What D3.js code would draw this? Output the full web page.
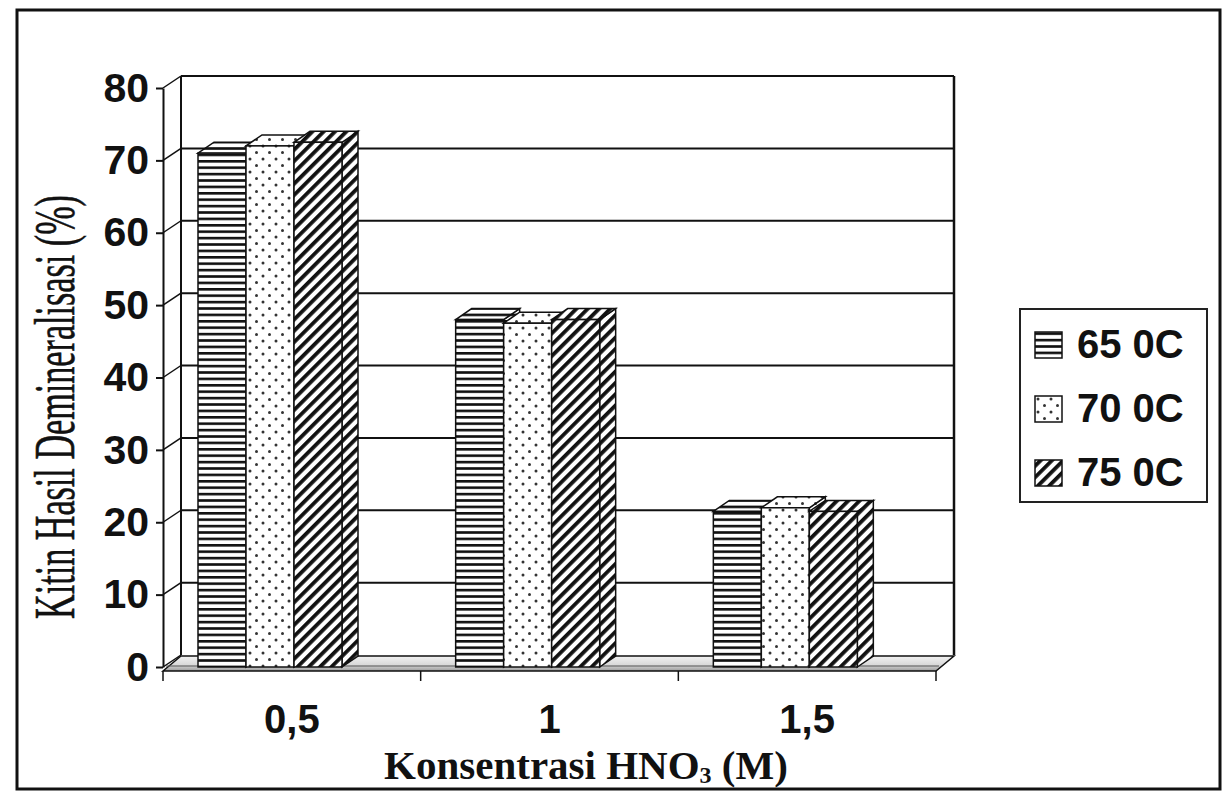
<!DOCTYPE html>
<html>
<head>
<meta charset="utf-8">
<script src="https://cdn.jsdelivr.net/npm/d3@7"></script>
<style>
  body { margin: 0; background: #fff; }
  svg { display: block; }
</style>
</head>
<body>
<div id="chart-area"></div>
<script>
/*
*    3D column chart - kitin demineralisasi
*/

var categories = ["0,5", "1", "1,5"];
var series = ["65 0C", "70 0C", "75 0C"];
var values65 = [71, 48, 21.5];
var values70 = [72, 47.5, 22];
var values75 = [72.5, 48, 21.5];
var yTicks = [0, 10, 20, 30, 40, 50, 60, 70, 80];

var seriesValues = [values65, values70, values75];
var patterns = ["hstripe", "dots", "diag"];

var width = 1224;
var height = 795;

var wall = { dx: 18, dy: -12 };
var bar = { dx: 16, dy: -11 };

var svg = d3.select("#chart-area").append("svg")
    .attr("width", width)
    .attr("height", height);

var defs = svg.append("defs");

// horizontal stripes
var p1 = defs.append("pattern").attr("id", "hstripe")
    .attr("patternUnits", "userSpaceOnUse").attr("width", 8).attr("height", 6.4);
p1.append("rect").attr("width", 8).attr("height", 6.4).attr("fill", "#fff");
p1.append("rect").attr("y", 0).attr("width", 8).attr("height", 2.6).attr("fill", "#111");

// dots
var p2 = defs.append("pattern").attr("id", "dots")
    .attr("patternUnits", "userSpaceOnUse").attr("width", 13).attr("height", 13);
p2.append("rect").attr("width", 13).attr("height", 13).attr("fill", "#fff");
p2.append("circle").attr("cx", 3).attr("cy", 3).attr("r", 1.5).attr("fill", "#333");
p2.append("circle").attr("cx", 9.5).attr("cy", 9.5).attr("r", 1.5).attr("fill", "#333");

// diagonal hatch
var p3 = defs.append("pattern").attr("id", "diag")
    .attr("patternUnits", "userSpaceOnUse").attr("width", 8).attr("height", 8)
    .attr("patternTransform", "rotate(45)");
p3.append("rect").attr("width", 8).attr("height", 8).attr("fill", "#fff");
p3.append("rect").attr("width", 3.8).attr("height", 8).attr("fill", "#111");

var floorGrad = defs.append("linearGradient").attr("id", "floorGrad")
    .attr("x1", 0).attr("x2", 0).attr("y1", 0).attr("y2", 1);
floorGrad.append("stop").attr("offset", "0%").attr("stop-color", "#f2f2f2");
floorGrad.append("stop").attr("offset", "60%").attr("stop-color", "#d8d8d8");
floorGrad.append("stop").attr("offset", "100%").attr("stop-color", "#9a9a9a");

// outer frame
svg.append("rect")
    .attr("x", 17).attr("y", 10)
    .attr("width", 1203).attr("height", 779)
    .attr("fill", "none")
    .attr("stroke", "#111")
    .attr("stroke-width", 3);

var x = d3.scaleBand().domain(categories).range([163, 936]);
var xs = d3.scaleBand().domain(series).range([35, 35 + 144]);
var y = d3.scaleLinear().domain([0, 80]).range([667, 88]);

var g = svg.append("g");

var x0 = x.range()[0], x1 = x.range()[1];

// back wall gridlines
g.selectAll(".grid").data(yTicks.filter((d) => d > 0)).enter().append("line")
    .attr("x1", x0 + wall.dx).attr("x2", x1 + wall.dx)
    .attr("y1", (d) => y(d) + wall.dy).attr("y2", (d) => y(d) + wall.dy)
    .attr("stroke", "#111").attr("stroke-width", 2);

// left wall diagonals
g.selectAll(".diag").data(yTicks).enter().append("line")
    .attr("x1", x0).attr("x2", x0 + wall.dx)
    .attr("y1", (d) => y(d)).attr("y2", (d) => y(d) + wall.dy)
    .attr("stroke", "#111").attr("stroke-width", 1.5);

// back wall edges
g.append("line")
    .attr("x1", x0 + wall.dx).attr("x2", x0 + wall.dx)
    .attr("y1", y(80) + wall.dy).attr("y2", y(0) + wall.dy)
    .attr("stroke", "#111").attr("stroke-width", 2);
g.append("line")
    .attr("x1", x1 + wall.dx).attr("x2", x1 + wall.dx)
    .attr("y1", y(80) + wall.dy).attr("y2", y(0) + wall.dy)
    .attr("stroke", "#111").attr("stroke-width", 2.5);

// floor
var fy = y(0);
g.append("path")
    .attr("d", "M" + x0 + "," + (fy + 4) + "L" + (x0 + wall.dx) + "," + (fy + wall.dy + 1) +
        "L" + (x1 + wall.dx) + "," + (fy + wall.dy + 1) + "L" + x1 + "," + (fy + 4) + "Z")
    .attr("fill", "url(#floorGrad)")
    .attr("stroke", "#111").attr("stroke-width", 1.5);
g.append("line")
    .attr("x1", x0 + 3).attr("x2", x1 + 3)
    .attr("y1", fy - 1).attr("y2", fy - 1)
    .attr("stroke", "#555").attr("stroke-width", 1.2);

// category ticks at band boundaries
var bounds = categories.map((c) => x(c)).concat([x1]);
g.selectAll(".ctick").data(bounds).enter().append("line")
    .attr("x1", (d) => d).attr("x2", (d) => d)
    .attr("y1", fy + 4).attr("y2", fy + 14)
    .attr("stroke", "#111").attr("stroke-width", 1.5);

// bars
var barData = [];
categories.forEach((c, ci) => {
    series.forEach((s, si) => {
        barData.push({ cat: c, s: s, v: seriesValues[si][ci], pat: patterns[si] });
    });
});

var bars = g.selectAll(".bar").data(barData).enter().append("g").attr("class", "bar");

bars.each(function(d) {
    var sel = d3.select(this);
    var bx = x(d.cat) + xs(d.s);
    var bw = xs.bandwidth();
    var top = y(d.v);
    var bot = y(0);
    // side face
    sel.append("path")
        .attr("d", "M" + (bx + bw) + "," + bot + "L" + (bx + bw + bar.dx) + "," + (bot + bar.dy) +
            "L" + (bx + bw + bar.dx) + "," + (top + bar.dy) + "L" + (bx + bw) + "," + top + "Z")
        .attr("fill", "url(#" + d.pat + ")")
        .attr("stroke", "#111").attr("stroke-width", 1.5);
    // top face
    sel.append("path")
        .attr("d", "M" + bx + "," + top + "L" + (bx + bar.dx) + "," + (top + bar.dy) +
            "L" + (bx + bw + bar.dx) + "," + (top + bar.dy) + "L" + (bx + bw) + "," + top + "Z")
        .attr("fill", "url(#" + d.pat + ")")
        .attr("stroke", "#111").attr("stroke-width", 1.5);
    // front face
    sel.append("rect")
        .attr("x", bx).attr("y", top)
        .attr("width", bw).attr("height", bot - top)
        .attr("fill", "url(#" + d.pat + ")")
        .attr("stroke", "#111").attr("stroke-width", 1.5);
});

// y axis
var yAxisCall = d3.axisLeft(y)
    .tickValues(yTicks)
    .tickSize(7)
    .tickSizeOuter(0)
    .tickPadding(7);

var yAxisGroup = svg.append("g")
    .attr("transform", "translate(" + x0 + ",0)")
    .call(yAxisCall);

yAxisGroup.selectAll(".domain, .tick line").attr("stroke", "#111").attr("stroke-width", 2);
yAxisGroup.selectAll(".tick text")
    .attr("fill", "#111")
    .style("font-family", "'Liberation Sans', Arial, sans-serif")
    .style("font-weight", "bold")
    .style("font-size", "41px");

// category labels
svg.selectAll(".clabel").data(categories).enter().append("text")
    .attr("x", (d) => x(d) + x.bandwidth() / 2)
    .attr("y", 733)
    .attr("text-anchor", "middle")
    .style("font-family", "'Liberation Sans', Arial, sans-serif")
    .style("font-weight", "bold")
    .style("font-size", "40px")
    .attr("fill", "#111")
    .text((d) => d);

// x title
var xt = svg.append("text")
    .attr("x", 586)
    .attr("y", 779)
    .attr("text-anchor", "middle")
    .style("font-family", "'Liberation Serif', 'Times New Roman', serif")
    .style("font-weight", "bold")
    .style("font-size", "41px")
    .attr("fill", "#111");
xt.append("tspan").text("Konsentrasi HNO");
xt.append("tspan").attr("dy", 4).style("font-size", "24px").text("3");
xt.append("tspan").attr("dy", -4).text(" (M)");

// y title (condensed serif)
svg.append("text")
    .attr("transform", "translate(74, 407) rotate(-90) scale(0.61, 1)")
    .attr("text-anchor", "middle")
    .style("font-family", "'Liberation Serif', 'Times New Roman', serif")
    .style("font-size", "56px")
    .style("stroke", "#111")
    .style("stroke-width", 0.6)
    .attr("fill", "#111")
    .text("Kitin Hasil Demineralisasi (%)");

// legend
var legend = svg.append("g");
legend.append("rect")
    .attr("x", 1020).attr("y", 309)
    .attr("width", 187).attr("height", 193)
    .attr("fill", "#fff")
    .attr("stroke", "#222").attr("stroke-width", 2);

var items = legend.selectAll(".item").data(series).enter().append("g")
    .attr("transform", (d, i) => "translate(1035," + (358 + i * 64) + ")");

items.append("rect")
    .attr("x", 0).attr("y", -26)
    .attr("width", 27).attr("height", 26)
    .attr("fill", (d, i) => "url(#" + patterns[i] + ")")
    .attr("stroke", "#111").attr("stroke-width", 1.5);

items.append("text")
    .attr("x", 42).attr("y", 0)
    .style("font-family", "'Liberation Sans', Arial, sans-serif")
    .style("font-weight", "bold")
    .style("font-size", "40px")
    .attr("fill", "#111")
    .text((d) => d);
</script>
</body>
</html>
